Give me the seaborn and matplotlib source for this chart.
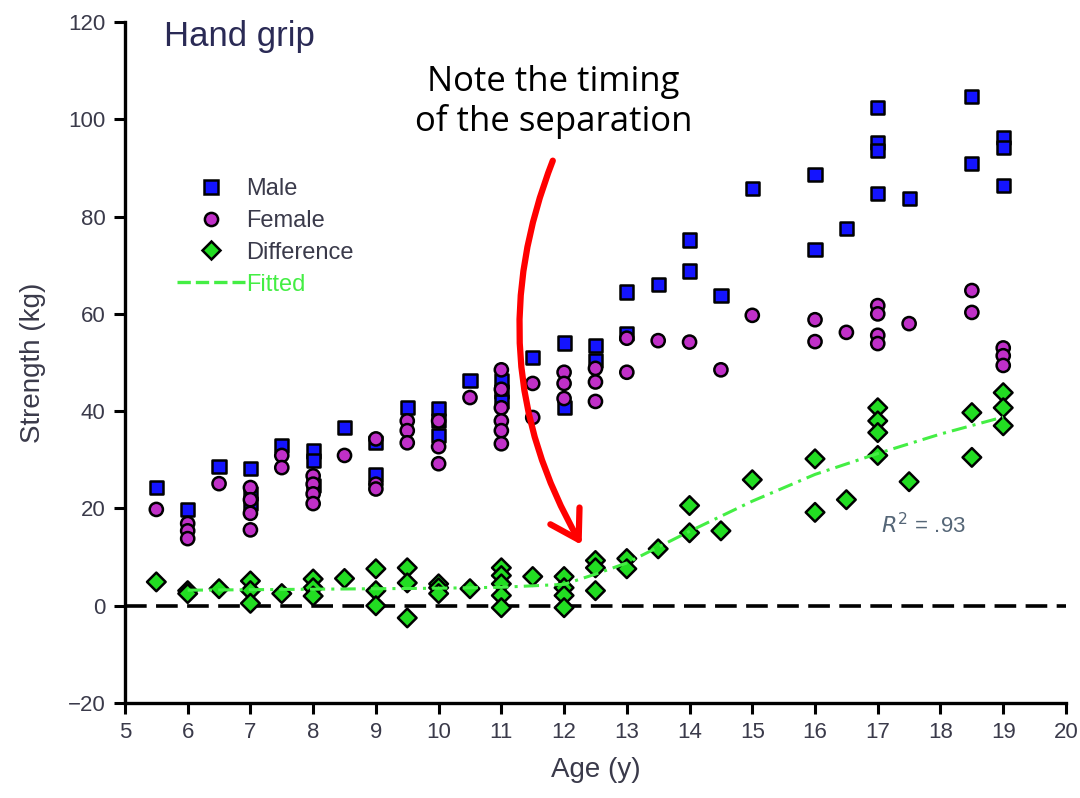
import numpy as np
import pandas as pd
import matplotlib
matplotlib.use("Agg")
import matplotlib.pyplot as plt
import seaborn as sns
from matplotlib.lines import Line2D
from matplotlib.patches import FancyArrowPatch

# ---------------- data ----------------
male_age = [5.5, 6, 6.5, 7, 7, 7, 7.5, 8, 8, 8, 8.5, 9, 9, 9.5, 10, 10, 10, 10.5,
            11, 11, 11, 11.5, 12, 12, 12.5, 12.5, 13, 13, 13.5, 14, 14, 14.5, 15,
            16, 16, 16.5, 17, 17, 17, 17, 17.5, 18.5, 18.5, 19, 19, 19]
male_val = [24.3, 19.8, 28.6, 28.2, 23, 21, 33, 31.8, 29.8, 24.7, 36.6, 33.5, 27, 40.7,
            40.5, 38, 35, 46.3, 46.2, 44, 42, 51, 54, 40.8, 53.5, 50.4, 64.5, 56,
            66, 75.2, 68.8, 63.8, 85.8, 88.6, 73.2, 77.6, 102.5, 95.3, 93.6, 84.8,
            83.7, 104.7, 91, 96.3, 94.2, 86.4]

female_age = [5.5, 6, 6, 6, 6.5, 7, 7, 7, 7, 7.5, 7.5, 8, 8, 8, 8, 8.5, 9, 9, 9,
              9.5, 9.5, 9.5, 10, 10, 10, 10.5, 11, 11, 11, 11, 11, 11, 11.5, 11.5,
              12, 12, 12, 12.5, 12.5, 12.5, 13, 13, 13.5, 14, 14.5, 15, 16, 16, 16.5,
              17, 17, 17, 17, 17.5, 18.5, 18.5, 19, 19, 19]
female_val = [19.8, 16.9, 15.4, 13.8, 25.1, 24.3, 21.8, 19, 15.6, 30.9, 28.4, 26.7, 25,
              23, 21, 30.9, 34.3, 25, 24, 38, 36, 33.5, 38, 32.7, 29.2, 42.8, 48.5,
              44.5, 40.7, 38, 36, 33.3, 45.7, 38.7, 48, 45.7, 42.6, 48.8, 46, 42,
              55, 48, 54.5, 54.2, 48.5, 59.7, 58.8, 54.3, 56.2, 61.7, 60, 55.6, 53.9,
              58, 64.8, 60.3, 53, 51.4, 49.4]

diff_age = [5.5, 6, 6, 6.5, 7, 7, 7, 7.5, 8, 8, 8, 8.5, 9, 9, 9, 9.5, 9.5, 9.5,
            10, 10, 10, 10.5, 11, 11, 11, 11, 11, 11.5, 12, 12, 12, 12, 12.5, 12.5,
            12.5, 13, 13, 13.5, 14, 14, 14.5, 15, 16, 16, 16.5, 17, 17, 17, 17,
            17.5, 18.5, 18.5, 19, 19, 19]
diff_val = [4.9, 3.1, 2.5, 3.5, 5.1, 3.1, 0.5, 2.5, 5.5, 3.7, 2.0, 5.6, 7.6, 3.1, 0.0,
            7.8, 4.7, -2.5, 4.5, 3.7, 2.5, 3.5, 7.8, 6.2, 4.5, 2.1, -0.4, 6.0, 6.0,
            3.7, 2.1, -0.4, 9.3, 7.8, 3.1, 9.7, 7.6, 11.7, 20.6, 15.0, 15.4, 25.9,
            30.2, 19.2, 21.8, 40.7, 38.0, 35.6, 30.9, 25.5, 39.7, 30.5, 43.8, 40.7, 37.0]

fit_age = [6, 7, 8, 9, 10, 11, 12, 12.5, 13, 14, 15, 16, 17, 18, 19]
fit_val = [3.2, 3.3, 3.4, 3.5, 3.6, 3.8, 4.4, 6.5, 8.8, 15.3, 21.5, 27.0, 31.3, 35.3, 38.8]

x_ticks = list(range(5, 21))
y_ticks = list(range(-20, 121, 20))

# ---------------- style ----------------
sns.set_theme(style="ticks")
plt.rcParams['font.family'] = ['Liberation Sans', 'DejaVu Sans']

COL_MALE = "#1414ff"
COL_FEM = "#c030c8"
COL_DIFF = "#22dd22"
COL_FIT = "#44ee44"
TXT = "#3a3a4a"

pts = pd.DataFrame({
    "age": male_age + female_age + diff_age,
    "value": male_val + female_val + diff_val,
    "group": ["Male"] * len(male_age) + ["Female"] * len(female_age) + ["Difference"] * len(diff_age),
})
fit = pd.DataFrame({"age": fit_age, "value": fit_val})

fig = plt.figure(figsize=(10.8, 7.98), dpi=100)
ax = fig.add_axes([0.1157, 0.119, 0.8713, 0.8534])

# zero reference line
ax.axhline(0, color="black", lw=2.6, ls=(0, (6, 2.6)), zorder=1)

order = ["Male", "Female", "Difference"]
sns.scatterplot(data=pts, x="age", y="value", hue="group", style="group",
                hue_order=order, style_order=order,
                palette={"Male": COL_MALE, "Female": COL_FEM, "Difference": COL_DIFF},
                markers={"Male": "s", "Female": "o", "Difference": "D"},
                s=90, edgecolor="black", linewidth=1.8, legend=False, ax=ax, zorder=3)

sns.lineplot(data=fit, x="age", y="value", color=COL_FIT, lw=2.2,
             ls=(0, (5, 2, 1, 2)), ax=ax, zorder=4)

ax.set_xlim(5, 20)
ax.set_ylim(-20, 120)
ax.set_xticks(x_ticks)
ax.set_yticks(y_ticks)
ax.set_yticklabels([("\u221220" if t == -20 else str(t)) for t in y_ticks])
sns.despine(ax=ax)
for sp in ["left", "bottom"]:
    ax.spines[sp].set_linewidth(2.4)
    ax.spines[sp].set_color("black")
ax.tick_params(axis="both", direction="out", length=8, width=2.2, colors="black",
               labelsize=16, labelcolor=TXT, pad=6)

ax.set_xlabel("Age (y)", fontsize=20, color=TXT, labelpad=10)
ax.set_ylabel("Strength (kg)", fontsize=20, color=TXT, labelpad=16)

# panel title
ax.text(5.62, 117.0, "Hand grip", fontsize=25, color="#2a2a55", ha="left", va="center")

# R^2 annotation
ax.text(17.05, 16.5, r"$R^2$ = .93", fontsize=16, color="#556677", ha="left", va="center")

# legend
handles = [
    Line2D([], [], ls="none", marker="s", markersize=9.5, markerfacecolor=COL_MALE,
           markeredgecolor="black", markeredgewidth=1.8),
    Line2D([], [], ls="none", marker="o", markersize=9.5, markerfacecolor=COL_FEM,
           markeredgecolor="black", markeredgewidth=1.8),
    Line2D([], [], ls="none", marker="D", markersize=9, markerfacecolor=COL_DIFF,
           markeredgecolor="black", markeredgewidth=1.8),
    Line2D([], [], color=COL_FIT, lw=2.4, ls=(0, (4, 1.5))),
]
leg = ax.legend(handles, ["Male", "Female", "Difference", "Fitted"],
                loc="upper left", bbox_to_anchor=(0.045, 0.785), frameon=False,
                fontsize=17, handlelength=2.9, handletextpad=0.05, labelspacing=0.42,
                borderaxespad=0)
for t, c in zip(leg.get_texts(), [TXT, TXT, TXT, COL_FIT]):
    t.set_color(c)

# callout
ax.text(11.83, 103.6, "Note the timing\nof the separation", fontsize=25,
        family=["Open Sans", "DejaVu Sans"], color="black", ha="center", va="center",
        linespacing=1.2)
arrow = FancyArrowPatch((11.82, 91.5), (12.28, 12.5), transform=ax.transData,
                        connectionstyle="arc3,rad=0.24",
                        arrowstyle="->,head_length=0.9,head_width=0.55",
                        mutation_scale=22, color="#ff0000", lw=4.5, zorder=6,
                        shrinkA=0, shrinkB=0)
ax.add_patch(arrow)

fig.savefig("out.png", dpi=100)
